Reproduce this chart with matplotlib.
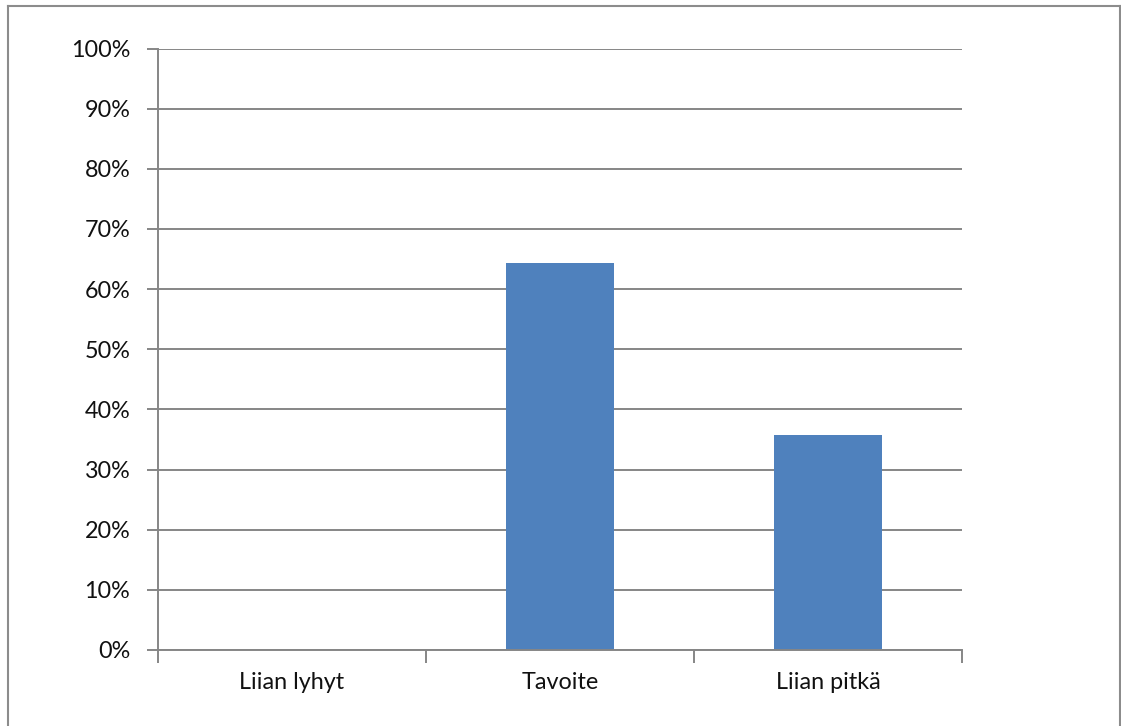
import matplotlib
matplotlib.use("Agg")
import matplotlib.pyplot as plt
from matplotlib.lines import Line2D
from matplotlib.ticker import FuncFormatter, FixedLocator

categories = ["Liian lyhyt", "Tavoite", "Liian pitkä"]
shares = [0.0, 0.643, 0.357]
y_ticks = [i / 10 for i in range(11)]

W, H = 1121, 726
fig = plt.figure(figsize=(W / 100, H / 100), dpi=100)
plt.rcParams["font.family"] = ["Lato", "DejaVu Sans"]

grid_col = "#868686"
bar_col = "#4F81BD"
label_size = 16.8

ax = fig.add_axes([158 / W, (H - 650) / H, (962 - 158) / W, (650 - 48.5) / H])
x = list(range(len(categories)))
ax.bar(x, shares, width=0.4, color=bar_col, zorder=3)

ax.set_xlim(-0.5, len(categories) - 0.5)
ax.set_ylim(0, 1)
ax.yaxis.set_major_locator(FixedLocator(y_ticks))
ax.yaxis.set_major_formatter(FuncFormatter(lambda v, p: f"{v * 100:.0f}%"))
ax.grid(axis="y", color=grid_col, linewidth=1.4, zorder=0)

ax.set_xticks(x)
ax.set_xticklabels(categories)
ax.set_xticks([i - 0.5 for i in range(len(categories) + 1)], minor=True)
ax.tick_params(axis="x", which="major", length=0, pad=16, labelsize=label_size,
               labelcolor="#111111")
ax.tick_params(axis="x", which="minor", length=9, width=1.4, color=grid_col, direction="out")
ax.tick_params(axis="y", length=8, width=1.4, color=grid_col, pad=12, labelsize=label_size,
               labelcolor="#111111")

for side in ("top", "right"):
    ax.spines[side].set_visible(False)
for side in ("left", "bottom"):
    ax.spines[side].set_color(grid_col)
    ax.spines[side].set_linewidth(1.4)
    ax.spines[side].set_zorder(4)

# thin frame around the chart area
frame_col = "#8C8C8C"
xl, xr, yt = 7.5 / W, 1119.5 / W, 1 - 5.5 / H
for xs, ys in (([xl, xl], [yt, -0.1]), ([xl, xr], [yt, yt]), ([xr, xr], [yt, -0.1])):
    fig.add_artist(Line2D(xs, ys, transform=fig.transFigure, color=frame_col, linewidth=1.5))

fig.savefig("out.png", dpi=100)
